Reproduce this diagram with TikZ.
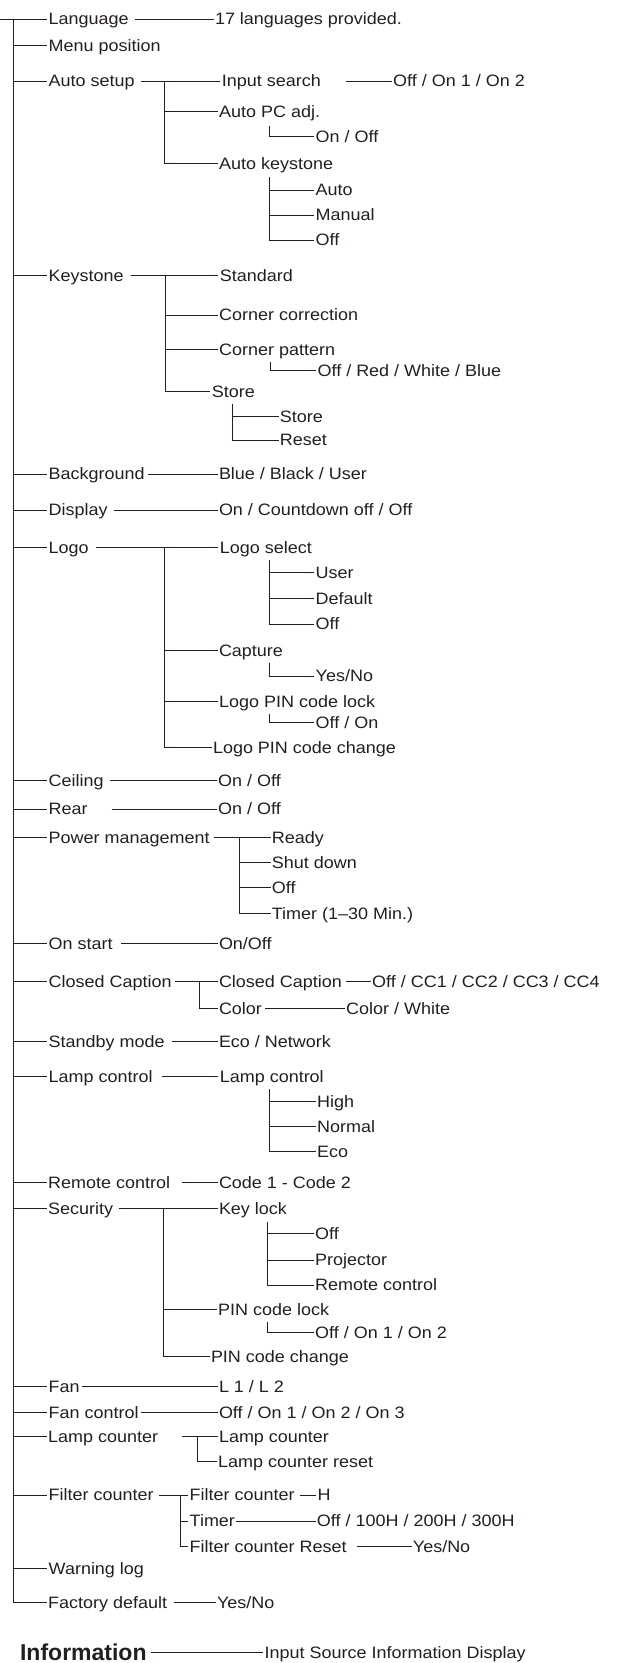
\documentclass[tikz,border=0pt]{standalone}
\usepackage{fontspec}
\setmainfont{Liberation Sans}[FakeStretch=1.09]
\newfontfamily\infofont{Liberation Sans}
\definecolor{ink}{HTML}{231F20}
\newcommand\mfs{\fontsize{16.5}{18}\selectfont}
\tikzset{
  lbl/.style={anchor=west, inner sep=0pt, text height=11.8pt, text depth=0pt, font=\mfs, text=ink},
  infolbl/.style={anchor=west, inner sep=0pt, text height=16.5pt, text depth=0pt, font=\infofont\fontsize{23}{25}\selectfont\bfseries, text=ink},
  ln/.style={line width=1pt, draw=ink, shorten >=1.2pt},
}
\begin{document}
\begin{tikzpicture}[x=1pt,y=-1pt]
\useasboundingbox (0,0) rectangle (617,1663);

% ---------- level 1 ----------
\node[lbl] (lang) at (48.5,19) {Language};
\node[lbl] (menu) at (48.5,45.7) {Menu position};
\node[lbl] (auto) at (48.5,81) {Auto setup};
\node[lbl] (key) at (48.5,275.7) {Keystone};
\node[lbl] (bg) at (48.5,474) {Background};
\node[lbl] (disp) at (48.5,510) {Display};
\node[lbl] (logo) at (48.5,547.3) {Logo};
\node[lbl] (ceil) at (48.5,780.7) {Ceiling};
\node[lbl] (rear) at (48.5,809) {Rear};
\node[lbl] (pm) at (48.5,837.3) {Power management};
\node[lbl] (ons) at (48.5,943.3) {On start};
\node[lbl] (cc) at (48.5,981.7) {Closed Caption};
\node[lbl] (sb) at (48.5,1041.7) {Standby mode};
\node[lbl] (lc) at (48.5,1076.7) {Lamp control};
\node[lbl] (rc) at (48,1182.7) {Remote control};
\node[lbl] (sec) at (48,1208.3) {Security};
\node[lbl] (fan) at (48.5,1386.7) {Fan};
\node[lbl] (fanc) at (48.5,1412.7) {Fan control};
\node[lbl] (lcnt) at (48,1436.7) {Lamp counter};
\node[lbl] (fcnt) at (48.5,1495) {Filter counter};
\node[lbl] (wlog) at (48.5,1568.3) {Warning log};
\node[lbl] (fdef) at (48,1602.7) {Factory default};

% trunk
\coordinate (lt) at (0,19);
\coordinate (mv) at (13,19);
\draw[ln] (lt) -- (lang.west);
\draw[ln] (mv) |- (fdef.west);
\foreach \n in {menu,auto,key,bg,disp,logo,ceil,rear,pm,ons,cc,sb,lc,rc,sec,fan,fanc,lcnt,fcnt,wlog}
  \draw[ln] (mv |- \n.west) -- (\n.west);

% ---------- Language ----------
\node[lbl] (langv) at (214.8,19) {17 languages provided.};
\draw[ln] ([xshift=6pt]lang.east) -- (langv.west);

% ---------- Auto setup ----------
\node[lbl] (ins) at (221.6,81) {Input search};
\node[lbl] (insv) at (393,81) {Off / On 1 / On 2};
\node[lbl] (apc) at (219,111.7) {Auto PC adj.};
\node[lbl] (apcv) at (315.5,136.7) {On / Off};
\node[lbl] (ak) at (219,163.3) {Auto keystone};
\node[lbl] (aka) at (315.5,190) {Auto};
\node[lbl] (akm) at (315.5,215) {Manual};
\node[lbl] (ako) at (315.5,240) {Off};
\draw[ln] ([xshift=6pt]auto.east) -- (ins.west);
\draw[ln] ([xshift=25pt]ins.east) -- (insv.west);
\coordinate (b1) at (164.3,81);
\draw[ln] (b1) |- (ak.west);
\draw[ln] (b1 |- apc.west) -- (apc.west);
\coordinate (b1a) at (269.3,126);
\draw[ln] (b1a) |- (apcv.west);
\coordinate (b1b) at (269.3,176.7);
\draw[ln] (b1b) |- (ako.west);
\draw[ln] (b1b |- aka.west) -- (aka.west);
\draw[ln] (b1b |- akm.west) -- (akm.west);

% ---------- Keystone ----------
\node[lbl] (std) at (219.6,275.7) {Standard};
\node[lbl] (kcc) at (219,315) {Corner correction};
\node[lbl] (kcp) at (219,349.3) {Corner pattern};
\node[lbl] (kcpv) at (317.4,370.7) {Off / Red / White / Blue};
\node[lbl] (kst) at (211.6,391.7) {Store};
\node[lbl] (kss) at (279.7,416.7) {Store};
\node[lbl] (ksr) at (279.7,440) {Reset};
\draw[ln] ([xshift=7pt]key.east) -- (std.west);
\coordinate (b2) at (165,275.7);
\draw[ln] (b2) |- (kst.west);
\draw[ln] (b2 |- kcc.west) -- (kcc.west);
\draw[ln] (b2 |- kcp.west) -- (kcp.west);
\coordinate (b2a) at (270.5,361.7);
\draw[ln] (b2a) |- (kcpv.west);
\coordinate (b2b) at (232.7,404);
\draw[ln] (b2b) |- (ksr.west);
\draw[ln] (b2b |- kss.west) -- (kss.west);

% ---------- Background / Display ----------
\node[lbl] (bgv) at (218.8,474) {Blue / Black / User};
\draw[ln] ([xshift=3pt]bg.east) -- (bgv.west);
\node[lbl] (dispv) at (218.8,510) {On / Countdown off / Off};
\draw[ln] ([xshift=6pt]disp.east) -- (dispv.west);

% ---------- Logo ----------
\node[lbl] (ls) at (219.6,547.3) {Logo select};
\node[lbl] (lsu) at (315.5,572.7) {User};
\node[lbl] (lsd) at (315.5,598.3) {Default};
\node[lbl] (lso) at (315.5,624) {Off};
\node[lbl] (cap) at (218.8,650.7) {Capture};
\node[lbl] (capv) at (315.5,676) {Yes/No};
\node[lbl] (lpl) at (219,701.3) {Logo PIN code lock};
\node[lbl] (lplv) at (315.5,722.7) {Off / On};
\node[lbl] (lpc) at (212.8,747.3) {Logo PIN code change};
\draw[ln] ([xshift=7pt]logo.east) -- (ls.west);
\coordinate (b3) at (164.3,547.3);
\draw[ln] (b3) |- (lpc.west);
\draw[ln] (b3 |- cap.west) -- (cap.west);
\draw[ln] (b3 |- lpl.west) -- (lpl.west);
\coordinate (b3a) at (269.3,560);
\draw[ln] (b3a) |- (lso.west);
\draw[ln] (b3a |- lsu.west) -- (lsu.west);
\draw[ln] (b3a |- lsd.west) -- (lsd.west);
\coordinate (b3b) at (269.3,663.3);
\draw[ln] (b3b) |- (capv.west);
\coordinate (b3c) at (269.3,714);
\draw[ln] (b3c) |- (lplv.west);

% ---------- Ceiling / Rear ----------
\node[lbl] (ceilv) at (218,780.7) {On / Off};
\draw[ln] ([xshift=6pt]ceil.east) -- (ceilv.west);
\node[lbl] (rearv) at (218,809) {On / Off};
\draw[ln] ([xshift=24pt]rear.east) -- (rearv.west);

% ---------- Power management ----------
\node[lbl] (pmr) at (271.7,837.3) {Ready};
\node[lbl] (pms) at (271.7,862.3) {Shut down};
\node[lbl] (pmo) at (271.7,887.7) {Off};
\node[lbl] (pmt) at (271.7,913.3) {Timer (1–30 Min.)};
\draw[ln] ([xshift=4pt]pm.east) -- (pmr.west);
\coordinate (b4) at (239.9,837.3);
\draw[ln] (b4) |- (pmt.west);
\draw[ln] (b4 |- pms.west) -- (pms.west);
\draw[ln] (b4 |- pmo.west) -- (pmo.west);

% ---------- On start ----------
\node[lbl] (onsv) at (218.8,943.3) {On/Off};
\draw[ln] ([xshift=8pt]ons.east) -- (onsv.west);

% ---------- Closed Caption ----------
\node[lbl] (ccs) at (218.8,981.7) {Closed Caption};
\node[lbl] (ccsv) at (372,981.7) {Off / CC1 / CC2 / CC3 / CC4};
\node[lbl] (ccc) at (218.8,1008.3) {Color};
\node[lbl] (cccv) at (346,1008.3) {Color / White};
\draw[ln] ([xshift=3pt]cc.east) -- (ccs.west);
\coordinate (b5) at (199,981.7);
\draw[ln] (b5) |- (ccc.west);
\draw[ln] ([xshift=4pt]ccs.east) -- (ccsv.west);
\draw[ln] ([xshift=3pt]ccc.east) -- (cccv.west);

% ---------- Standby mode ----------
\node[lbl] (sbv) at (218.8,1041.7) {Eco / Network};
\draw[ln] ([xshift=7pt]sb.east) -- (sbv.west);

% ---------- Lamp control ----------
\node[lbl] (lcs) at (219.6,1076.7) {Lamp control};
\node[lbl] (lch) at (317,1101.7) {High};
\node[lbl] (lcn) at (317,1126.7) {Normal};
\node[lbl] (lce) at (317,1151.7) {Eco};
\draw[ln] ([xshift=9pt]lc.east) -- (lcs.west);
\coordinate (b6) at (269.7,1089.3);
\draw[ln] (b6) |- (lce.west);
\draw[ln] (b6 |- lch.west) -- (lch.west);
\draw[ln] (b6 |- lcn.west) -- (lcn.west);

% ---------- Remote control ----------
\node[lbl] (rcv) at (218.8,1182.7) {Code 1 - Code 2};
\draw[ln] ([xshift=12pt]rc.east) -- (rcv.west);

% ---------- Security ----------
\node[lbl] (kl) at (218.8,1208.3) {Key lock};
\node[lbl] (klo) at (315,1233.3) {Off};
\node[lbl] (klp) at (315,1260) {Projector};
\node[lbl] (klr) at (315,1285) {Remote control};
\node[lbl] (pcl) at (218,1309.3) {PIN code lock};
\node[lbl] (pclv) at (315,1332.7) {Off / On 1 / On 2};
\node[lbl] (pcc) at (210.8,1356.7) {PIN code change};
\draw[ln] ([xshift=6pt]sec.east) -- (kl.west);
\coordinate (b7) at (163.1,1208.3);
\draw[ln] (b7) |- (pcc.west);
\draw[ln] (b7 |- pcl.west) -- (pcl.west);
\coordinate (b7a) at (267.3,1221.7);
\draw[ln] (b7a) |- (klr.west);
\draw[ln] (b7a |- klo.west) -- (klo.west);
\draw[ln] (b7a |- klp.west) -- (klp.west);
\coordinate (b7b) at (267.3,1321.7);
\draw[ln] (b7b) |- (pclv.west);

% ---------- Fan / Fan control ----------
\node[lbl] (fanv) at (218.8,1386.7) {L 1 / L 2};
\draw[ln] ([xshift=2pt]fan.east) -- (fanv.west);
\node[lbl] (fancv) at (218.8,1412.7) {Off / On 1 / On 2 / On 3};
\draw[ln] ([xshift=2pt]fanc.east) -- (fancv.west);

% ---------- Lamp counter ----------
\node[lbl] (lcs2) at (218.8,1436.7) {Lamp counter};
\node[lbl] (lcr) at (218,1461.7) {Lamp counter reset};
\draw[ln] ([xshift=24pt]lcnt.east) -- (lcs2.west);
\coordinate (b8) at (197.7,1436.7);
\draw[ln] (b8) |- (lcr.west);

% ---------- Filter counter ----------
\node[lbl] (fcs) at (189.5,1495) {Filter counter};
\node[lbl] (fcsv) at (317.3,1495) {H};
\node[lbl] (fct) at (189.5,1521) {Timer};
\node[lbl] (fctv) at (316.7,1521) {Off / 100H / 200H / 300H};
\node[lbl] (fcr) at (189.5,1546.5) {Filter counter Reset};
\node[lbl] (fcrv) at (412.7,1546.5) {Yes/No};
\draw[ln] ([xshift=5pt]fcnt.east) -- (fcs.west);
\coordinate (b9) at (180,1495);
\draw[ln] (b9) |- (fcr.west);
\draw[ln] (b9 |- fct.west) -- (fct.west);
\draw[ln] ([xshift=5pt]fcs.east) -- (fcsv.west);
\draw[ln] ([xshift=1pt]fct.east) -- (fctv.west);
\draw[ln] ([xshift=10pt]fcr.east) -- (fcrv.west);

% ---------- Factory default ----------
\node[lbl] (fdefv) at (216.8,1602.7) {Yes/No};
\draw[ln] ([xshift=7pt]fdef.east) -- (fdefv.west);

% ---------- Information ----------
\node[infolbl] (info) at (19.9,1652.7) {Information};
\node[lbl] (infov) at (264.5,1652.7) {Input Source Information Display};
\draw[ln] ([xshift=4pt]info.east) -- (infov.west);
\end{tikzpicture}
\end{document}
